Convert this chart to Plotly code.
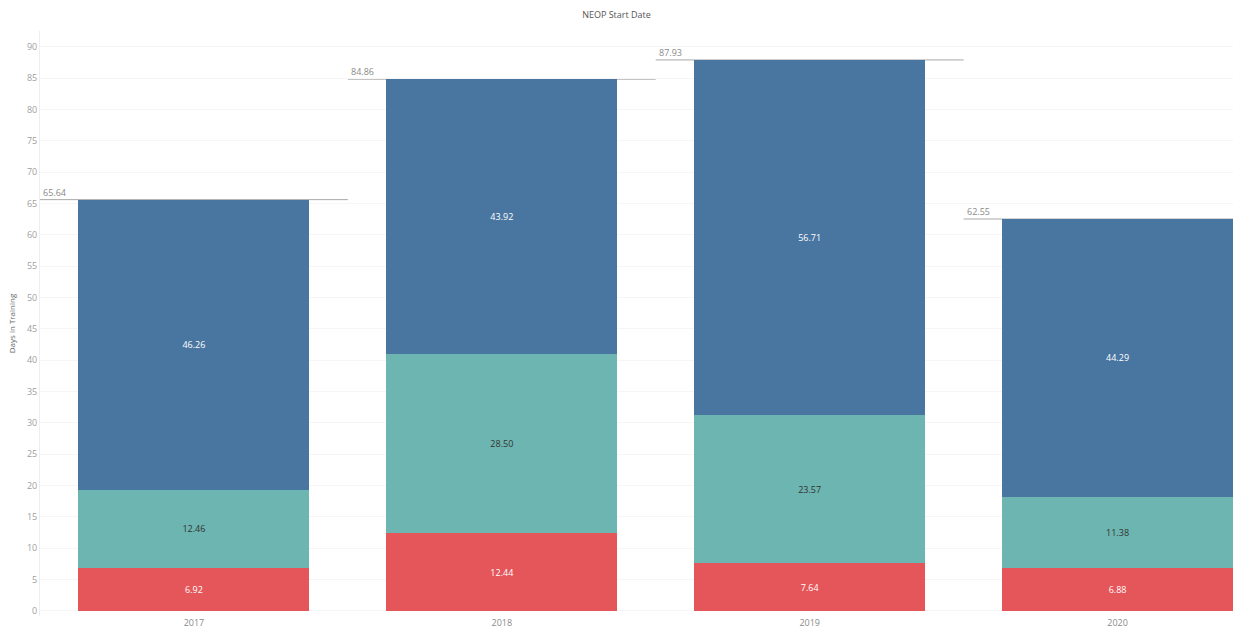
import plotly.graph_objects as go

years = ["2017", "2018", "2019", "2020"]
red_vals = [6.92, 12.44, 7.64, 6.88]
teal_vals = [12.46, 28.50, 23.57, 11.38]
blue_vals = [46.26, 43.92, 56.71, 44.29]
totals = [65.64, 84.86, 87.93, 62.55]
y_ticks = list(range(0, 95, 5))

RED = "#e45659"
TEAL = "#6db5b0"
BLUE = "#4976a1"
GREY_TXT = "#8a8a8a"

fig = go.Figure()
for vals, color, txtcolor in [
    (red_vals, RED, "white"),
    (teal_vals, TEAL, "#333333"),
    (blue_vals, BLUE, "white"),
]:
    fig.add_trace(go.Bar(
        x=years, y=vals,
        marker=dict(color=color, line=dict(width=0)),
        text=[f"{v:.2f}" for v in vals],
        textposition="inside", insidetextanchor="middle",
        textfont=dict(size=9, color=txtcolor, family="Open Sans, sans-serif"),
        constraintext="none",
        hoverinfo="skip", showlegend=False,
    ))

# total reference line across each year's cell, with its value label
for i, t in enumerate(totals):
    fig.add_shape(type="line", xref="x", yref="y",
                  x0=i - 0.5, x1=i + 0.5, y0=t, y1=t,
                  line=dict(color="#a8a8a8", width=1), layer="below")
    fig.add_annotation(x=i - 0.5, y=t, xref="x", yref="y",
                       text=f"{t:.2f}", showarrow=False,
                       xanchor="left", yanchor="bottom", xshift=1, yshift=-1,
                       font=dict(size=9, color=GREY_TXT, family="Open Sans, sans-serif"))

fig.update_layout(
    width=1233, height=632,
    barmode="stack", bargap=0.25,
    plot_bgcolor="white", paper_bgcolor="white",
    margin=dict(l=40, r=0, t=31, b=16),
    title=dict(text="NEOP Start Date", x=0.5, xanchor="center", y=0.982, yanchor="top",
               font=dict(size=9, color="#555555", family="Open Sans, sans-serif")),
    xaxis=dict(range=[-0.5, 3.375], showgrid=False, zeroline=False,
               tickfont=dict(size=9, color=GREY_TXT, family="Open Sans, sans-serif"),
               ticks="", showline=False),
    yaxis=dict(range=[-0.8, 92.55], tickvals=y_ticks,
               tickfont=dict(size=9, color="#a0a0a0", family="Open Sans, sans-serif"),
               showgrid=True, gridcolor="#f6f6f6", zeroline=False,
               showline=True, linecolor="#eeeeee",
               title=dict(text="Days in Training", standoff=10,
                          font=dict(size=8, color="#666666", family="Open Sans, sans-serif"))),
)

fig.write_html("out.html")
